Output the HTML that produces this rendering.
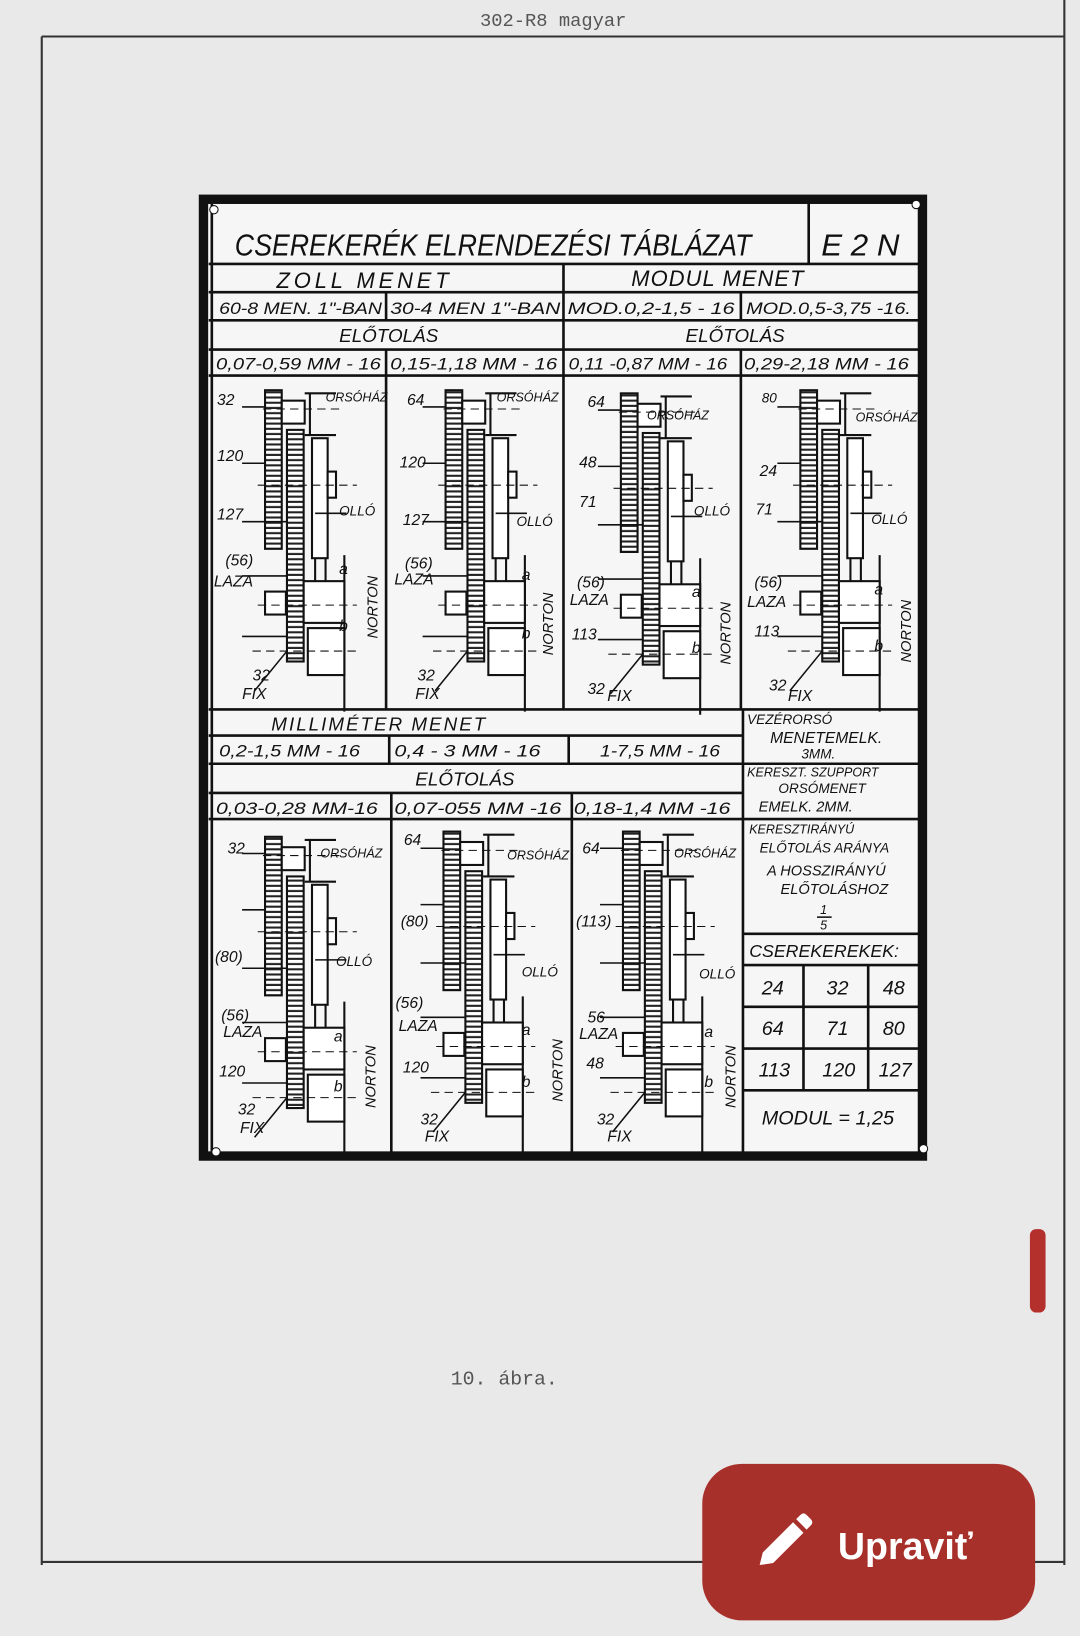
<!DOCTYPE html>
<html><head><meta charset="utf-8"><style>
html,body{margin:0;padding:0;background:#e9e9e9;}
svg{display:block}
text{font-family:"Liberation Sans",sans-serif;font-style:italic;fill:#111;}
.m{font-family:"Liberation Mono",monospace;font-style:normal;fill:#555;}
</style></head><body>
<svg width="1080" height="1636" viewBox="0 0 1035 1568" preserveAspectRatio="none" xmlns="http://www.w3.org/2000/svg">
<defs>
<pattern id="st" width="6" height="5" patternUnits="userSpaceOnUse"><rect width="6" height="5" fill="#fff"/><rect width="6" height="2" y="3" fill="#222"/></pattern>
<g id="dg" fill="none" stroke="#111" stroke-width="2">
 <rect x="62" y="12" width="16" height="152" fill="url(#st)"/>
 <rect x="83" y="50" width="16" height="222" fill="url(#st)"/>
 <rect x="78" y="22" width="22" height="22" fill="#fff"/>
 <path d="M100 15 H105 V55 H100 M105 15 H130 M105 55 H130"/>
 <rect x="107" y="58" width="15" height="115" fill="#fff"/>
 <rect x="122" y="90" width="8" height="25" fill="#fff"/>
 <path d="M110 173 V195 M120 173 V200 M138 170 V320"/>
 <rect x="99" y="195" width="39" height="40" fill="#fff"/>
 <rect x="62" y="205" width="20" height="22" fill="#fff"/>
 <rect x="103" y="240" width="35" height="45" fill="#fff"/>
 <path d="M40 28 H62 M40 82 H62 M40 138 H83 M40 190 H83 M40 248 H83 M52 300 L83 262" stroke-width="1.5"/>
 <path d="M60 30 H135 M55 103 H150 M55 218 H150 M50 262 H150" stroke-width="1" stroke-dasharray="8 5"/>
 <path d="M110 130 H140" stroke-width="1.5"/>
</g>
</defs>
<rect width="1035" height="1568" fill="#e9e9e9"/>
<path d="M40 35 H1020 M40 35 V1500 M1020 0 V1500 M40 1497 H1020" stroke="#333" stroke-width="2" fill="none"/>
<text x="460" y="25" class="m" font-size="18">302-R8 magyar</text>
<!-- table -->
<rect x="195" y="191" width="689" height="917" fill="#f6f6f6" stroke="#111" stroke-width="9"/>
<g stroke="#111" stroke-width="2.5" fill="none">
<path d="M200 253 H880 M775 195 V253 M200 280 H880 M200 307 H880 M200 335 H880 M200 360 H880 M540 253 V680 M370 280 V307 M370 335 V680 M710 280 V307 M710 335 V680 M200 680 H880 M203 195 V1105"/>
<path d="M200 705 H712 M373 705 V732 M545 705 V732 M200 732 H880 M200 760 H712 M375 760 V1105 M548 760 V1105 M200 785 H880 M712 680 V1105 M712 895 H880 M712 925 H880 M712 965 H880 M712 1005 H880 M712 1045 H880 M770 925 V1045 M832 925 V1045"/>
</g>
<text x="225" y="245" font-size="29" textLength="495" lengthAdjust="spacingAndGlyphs">CSEREKERÉK ELRENDEZÉSI TÁBLÁZAT</text>
<text x="787" y="245" font-size="29" textLength="75" lengthAdjust="spacingAndGlyphs">E 2 N</text>
<text x="265" y="276" font-size="21" textLength="165">ZOLL  MENET</text>
<text x="605" y="274" font-size="21" textLength="165">MODUL MENET</text>
<g font-size="16">
<text x="210" y="301" textLength="156" lengthAdjust="spacingAndGlyphs">60-8 MEN. 1"-BAN</text>
<text x="374" y="301" textLength="163" lengthAdjust="spacingAndGlyphs">30-4 MEN 1"-BAN</text>
<text x="544" y="301" textLength="160" lengthAdjust="spacingAndGlyphs">MOD.0,2-1,5 - 16</text>
<text x="715" y="301" textLength="158" lengthAdjust="spacingAndGlyphs">MOD.0,5-3,75 -16.</text>
<text x="325" y="328" font-size="18" textLength="95">ELŐTOLÁS</text>
<text x="657" y="328" font-size="18" textLength="95">ELŐTOLÁS</text>
<text x="207" y="354" textLength="158" lengthAdjust="spacingAndGlyphs">0,07-0,59 MM - 16</text>
<text x="374" y="354" textLength="160" lengthAdjust="spacingAndGlyphs">0,15-1,18 MM - 16</text>
<text x="545" y="354" textLength="152" lengthAdjust="spacingAndGlyphs">0,11 -0,87 MM - 16</text>
<text x="713" y="354" textLength="158" lengthAdjust="spacingAndGlyphs">0,29-2,18 MM - 16</text>
<text x="260" y="700" font-size="18" textLength="205">MILLIMÉTER  MENET</text>
<text x="210" y="725" textLength="135" lengthAdjust="spacingAndGlyphs">0,2-1,5 MM - 16</text>
<text x="378" y="725" textLength="140" lengthAdjust="spacingAndGlyphs">0,4 - 3  MM - 16</text>
<text x="575" y="725" textLength="115" lengthAdjust="spacingAndGlyphs">1-7,5  MM - 16</text>
<text x="398" y="753" font-size="18" textLength="95">ELŐTOLÁS</text>
<text x="207" y="780" textLength="155" lengthAdjust="spacingAndGlyphs">0,03-0,28 MM-16</text>
<text x="378" y="780" textLength="160" lengthAdjust="spacingAndGlyphs">0,07-055 MM -16</text>
<text x="550" y="780" textLength="150" lengthAdjust="spacingAndGlyphs">0,18-1,4 MM -16</text>
</g>
<g font-size="13">
<text x="716" y="694">VEZÉRORSÓ</text>
<text x="738" y="712" font-size="15">MENETEMELK.</text>
<text x="768" y="727">3MM.</text>
<text x="716" y="744" font-size="12">KERESZT. SZUPPORT</text>
<text x="746" y="760">ORSÓMENET</text>
<text x="727" y="778" font-size="14">EMELK.  2MM.</text>
<text x="718" y="799" font-size="12">KERESZTIRÁNYÚ</text>
<text x="728" y="817">ELŐTOLÁS  ARÁNYA</text>
<text x="735" y="839" font-size="14">A HOSSZIRÁNYÚ</text>
<text x="748" y="857" font-size="14">ELŐTOLÁSHOZ</text>
<text x="786" y="876" font-size="12">1</text><path d="M783 879 H797" stroke="#111" stroke-width="1.5"/><text x="786" y="891" font-size="12">5</text>
<text x="718" y="917" font-size="17">CSEREKEREKEK:</text>
</g>
<g font-size="19">
<text x="730" y="953">24</text><text x="792" y="953">32</text><text x="846" y="953">48</text>
<text x="730" y="992">64</text><text x="792" y="992">71</text><text x="846" y="992">80</text>
<text x="727" y="1032">113</text><text x="788" y="1032">120</text><text x="842" y="1032">127</text>
<text x="730" y="1078" font-size="19">MODUL = 1,25</text>
</g>
<!-- diagrams -->
<use href="#dg" x="192" y="362"/>
<use href="#dg" x="365" y="362"/>
<use href="#dg" x="533" y="365"/>
<use href="#dg" x="705" y="362"/>
<use href="#dg" x="192" y="790"/>
<use href="#dg" x="363" y="785"/>
<use href="#dg" x="535" y="785"/>
<g font-size="15">
<text x="208" y="388">32</text><text x="208" y="442">120</text><text x="208" y="498">127</text><text x="216" y="542">(56)</text><text x="205" y="562">LAZA</text><text x="242" y="652">32</text><text x="232" y="670">FIX</text>
<text x="312" y="385" font-size="12">ORSÓHÁZ</text><text x="325" y="494" font-size="13">OLLÓ</text><text x="325" y="550">a</text><text x="325" y="605">b</text>
<text x="390" y="388">64</text><text x="383" y="448">120</text><text x="386" y="503">127</text><text x="388" y="545">(56)</text><text x="378" y="560">LAZA</text><text x="400" y="652">32</text><text x="398" y="670">FIX</text>
<text x="476" y="385" font-size="12">ORSÓHÁZ</text><text x="495" y="504" font-size="13">OLLÓ</text><text x="500" y="556">a</text><text x="500" y="612">b</text>
<text x="563" y="390">64</text><text x="555" y="448">48</text><text x="555" y="486">71</text><text x="553" y="563">(56)</text><text x="546" y="580">LAZA</text><text x="548" y="613">113</text><text x="563" y="665">32</text><text x="582" y="672">FIX</text>
<text x="620" y="402" font-size="12">ORSÓHÁZ</text><text x="665" y="494" font-size="13">OLLÓ</text><text x="663" y="572">a</text><text x="663" y="626">b</text>
<text x="730" y="386" font-size="13">80</text><text x="728" y="456">24</text><text x="724" y="493">71</text><text x="723" y="563">(56)</text><text x="716" y="582">LAZA</text><text x="723" y="610">113</text><text x="737" y="662">32</text><text x="755" y="672">FIX</text>
<text x="820" y="404" font-size="12">ORSÓHÁZ</text><text x="835" y="502" font-size="13">OLLÓ</text><text x="838" y="570">a</text><text x="838" y="624">b</text>
<text x="218" y="818">32</text><text x="206" y="922">(80)</text><text x="212" y="978">(56)</text><text x="214" y="994">LAZA</text><text x="210" y="1032">120</text><text x="228" y="1068">32</text><text x="230" y="1086">FIX</text>
<text x="307" y="822" font-size="12">ORSÓHÁZ</text><text x="322" y="926" font-size="13">OLLÓ</text><text x="320" y="998">a</text><text x="320" y="1046">b</text>
<text x="387" y="810">64</text><text x="384" y="888">(80)</text><text x="379" y="966">(56)</text><text x="382" y="988">LAZA</text><text x="386" y="1028">120</text><text x="403" y="1078">32</text><text x="407" y="1094">FIX</text>
<text x="486" y="824" font-size="12">ORSÓHÁZ</text><text x="500" y="936" font-size="13">OLLÓ</text><text x="500" y="992">a</text><text x="500" y="1042">b</text>
<text x="558" y="818">64</text><text x="552" y="888">(113)</text><text x="563" y="980">56</text><text x="555" y="996">LAZA</text><text x="562" y="1024">48</text><text x="572" y="1078">32</text><text x="582" y="1094">FIX</text>
<text x="646" y="822" font-size="12">ORSÓHÁZ</text><text x="670" y="938" font-size="13">OLLÓ</text><text x="675" y="994">a</text><text x="675" y="1042">b</text>
</g>
<g font-size="14">
<text transform="translate(362,612) rotate(-90)">NORTON</text>
<text transform="translate(530,628) rotate(-90)">NORTON</text>
<text transform="translate(700,637) rotate(-90)">NORTON</text>
<text transform="translate(873,635) rotate(-90)">NORTON</text>
<text transform="translate(360,1062) rotate(-90)">NORTON</text>
<text transform="translate(539,1056) rotate(-90)">NORTON</text>
<text transform="translate(705,1062) rotate(-90)">NORTON</text>
</g>
<circle cx="205" cy="201" r="4" fill="#fff" stroke="#111"/><circle cx="878" cy="196" r="4" fill="#fff" stroke="#111"/>
<circle cx="207" cy="1104" r="4" fill="#fff" stroke="#111"/><circle cx="885" cy="1101" r="4" fill="#fff" stroke="#111"/>
<text x="432" y="1327" class="m" font-size="19" fill="#333">10. ábra.</text>
<rect x="987" y="1178" width="15" height="80" rx="6" fill="#b3302c"/>
<rect x="673" y="1403" width="319" height="150" rx="38" fill="#a8302b"/>
<path d="M728 1500 L731 1488 L760 1459 L770 1469 L741 1498 Z M763 1456 L767 1452 Q770 1449 773 1452 L777 1456 Q780 1459 777 1462 L773 1466 Z" fill="#fff"/>
<text x="803" y="1494" font-size="36" style="font-style:normal;font-weight:bold;fill:#fff">Upraviť</text>
</svg>
</body></html>
